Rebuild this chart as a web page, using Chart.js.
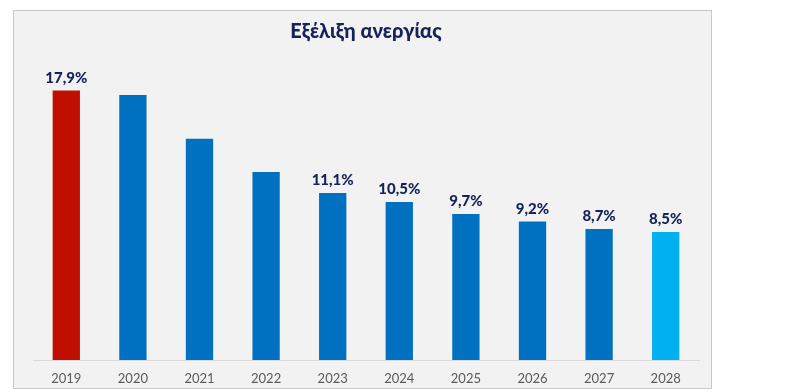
<!DOCTYPE html>
<html>
<head>
<meta charset="utf-8">
<script src="https://cdn.jsdelivr.net/npm/chart.js@4/dist/chart.umd.min.js"></script>
<style>
  html, body { margin: 0; padding: 0; background: #fff; }
  #panel {
    position: absolute; left: 13px; top: 10px;
    width: 697px; height: 377px;
    background: #f2f2f2; border: 1px solid #c8c8c8;
  }
</style>
</head>
<body>
<div id="panel"><canvas id="chart"></canvas></div>
<script>
const years = ['2019', '2020', '2021', '2022', '2023', '2024', '2025', '2026', '2027', '2028'];
const unemployment = [17.9, 17.6, 14.7, 12.5, 11.1, 10.5, 9.7, 9.2, 8.7, 8.5];
const shownLabels = [true, false, false, false, true, true, true, true, true, true];
const barColors = ['#c00f00', '#0070c0', '#0070c0', '#0070c0', '#0070c0', '#0070c0', '#0070c0', '#0070c0', '#0070c0', '#00b0f0'];

const valueLabels = {
  id: 'valueLabels',
  afterDatasetsDraw(chart) {
    const ctx = chart.ctx;
    const meta = chart.getDatasetMeta(0);
    ctx.save();
    ctx.font = '900 15px Lato';
    ctx.fillStyle = '#14245a';
    ctx.textAlign = 'center';
    ctx.textBaseline = 'bottom';
    meta.data.forEach((bar, i) => {
      if (!shownLabels[i]) return;
      ctx.fillText(unemployment[i].toFixed(1).replace('.', ',') + '%', bar.x, bar.y - 5);
    });
    ctx.restore();
  }
};

new Chart(document.getElementById('chart'), {
  type: 'bar',
  data: {
    labels: years,
    datasets: [{
      data: unemployment,
      backgroundColor: barColors,
      barPercentage: 0.41,
      categoryPercentage: 1
    }]
  },
  options: {
    responsive: true,
    maintainAspectRatio: false,
    animation: false,
    layout: { padding: { left: 19, right: 12, bottom: 0 } },
    plugins: {
      legend: { display: false },
      tooltip: { enabled: false },
      title: {
        display: true,
        text: 'Εξέλιξη ανεργίας',
        color: '#14245a',
        font: { family: 'Lato', size: 20, weight: '900' },
        padding: { top: 9, bottom: 15 }
      }
    },
    scales: {
      x: {
        grid: { display: false, drawTicks: false },
        border: { display: true, color: '#d9d9d9' },
        ticks: { color: '#595959', font: { family: 'Lato', size: 13 }, padding: 11 },
        afterFit(scale) { scale.height = 28; }
      },
      y: {
        display: false,
        min: 0,
        max: 20
      }
    }
  },
  plugins: [valueLabels]
});
</script>
</body>
</html>
